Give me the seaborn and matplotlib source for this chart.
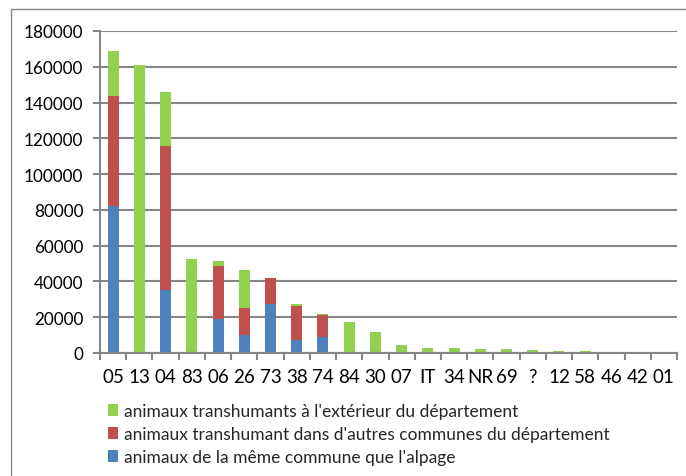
import matplotlib
matplotlib.use("Agg")
import matplotlib.pyplot as plt
import seaborn as sns
import pandas as pd
import numpy as np
from matplotlib.patches import Patch
from matplotlib.lines import Line2D

categories = ["05", "13", "04", "83", "06", "26", "73", "38", "74", "84", "30",
              "07", "IT", "34", "NR", "69", "?", "12", "58", "46", "42", "01"]
meme_commune = [82000, 0, 35000, 0, 19000, 10000, 27500, 7000, 9000, 0, 0,
                0, 0, 0, 0, 0, 0, 0, 0, 0, 0, 0]
autres_communes = [61500, 0, 80500, 0, 29500, 15000, 14300, 19000, 12000, 0, 0,
                   0, 0, 0, 0, 0, 0, 0, 0, 0, 0, 0]
exterieur = [25500, 161000, 30500, 52500, 3000, 21500, 400, 1500, 1000, 17500, 12000,
             4700, 2900, 2700, 2300, 2100, 1600, 1300, 900, 550, 350, 100]

labels = ["animaux transhumants à l'extérieur du département",
          "animaux transhumant dans d'autres communes du département",
          "animaux de la même commune que l'alpage"]
yticks = [0, 20000, 40000, 60000, 80000, 100000, 120000, 140000, 160000, 180000]

sns.set_theme(style="white")
plt.rcParams['font.family'] = ['Lato', 'DejaVu Sans']

df = pd.DataFrame({"cat": categories,
                   "blue": meme_commune,
                   "red": autres_communes,
                   "green": exterieur})
df["c_blue"] = df["blue"]
df["c_red"] = df["blue"] + df["red"]
df["c_green"] = df["c_red"] + df["green"]

green = "#92D050"
red = "#C0504D"
blue = "#4F81BD"
grid = "#868686"

W, H = 686, 477
fig = plt.figure(figsize=(W / 100, H / 100), dpi=100)
ax = fig.add_axes([100 / W, 1 - 354 / H, 577 / W, (354 - 32) / H])

for col, c in [("c_green", green), ("c_red", red), ("c_blue", blue)]:
    sns.barplot(data=df, x="cat", y=col, color=c, width=0.42, ax=ax,
                saturation=1, edgecolor="none", linewidth=0, order=categories)

ax.set_xlim(-0.5, len(categories) - 0.5)
ax.set_ylim(0, 180000)
ax.set_yticks(yticks)
ax.set_yticklabels([str(v) for v in yticks])
ax.yaxis.grid(True, color=grid, linewidth=1.5)
ax.set_axisbelow(True)
ax.set_xlabel("")
ax.set_ylabel("")
for s in ["top", "right"]:
    ax.spines[s].set_visible(False)
for s in ["left", "bottom"]:
    ax.spines[s].set_color(grid)
    ax.spines[s].set_linewidth(1.5)

ax.tick_params(axis="y", which="major", length=5, width=1.5, color=grid,
               labelsize=12.3, pad=7, left=True)
ax.tick_params(axis="x", which="major", length=0, labelsize=13.5, pad=11, bottom=True)
ax.set_xticks(np.arange(-0.5, len(categories), 1.0), minor=True)
ax.tick_params(axis="x", which="minor", length=5, width=1.5, color=grid, bottom=True)
for t in ax.get_xticklabels() + ax.get_yticklabels():
    t.set_color("#000000")

handles = [Patch(facecolor=green, edgecolor="none"),
           Patch(facecolor=red, edgecolor="none"),
           Patch(facecolor=blue, edgecolor="none")]
fig.legend(handles, labels, loc="upper left", bbox_to_anchor=(101 / W, 1 - 397 / H),
           frameon=False, fontsize=12.5, handlelength=0.6, handleheight=0.65,
           handletextpad=0.3, labelspacing=0.4, borderaxespad=0)

fig.add_artist(Line2D([11 / W, 11 / W], [0, 1 - 10 / H], transform=fig.transFigure,
                      color=grid, linewidth=1.0))
fig.add_artist(Line2D([11 / W, 1], [1 - 10 / H, 1 - 10 / H], transform=fig.transFigure,
                      color=grid, linewidth=1.0))

fig.savefig("out.png", dpi=100)
